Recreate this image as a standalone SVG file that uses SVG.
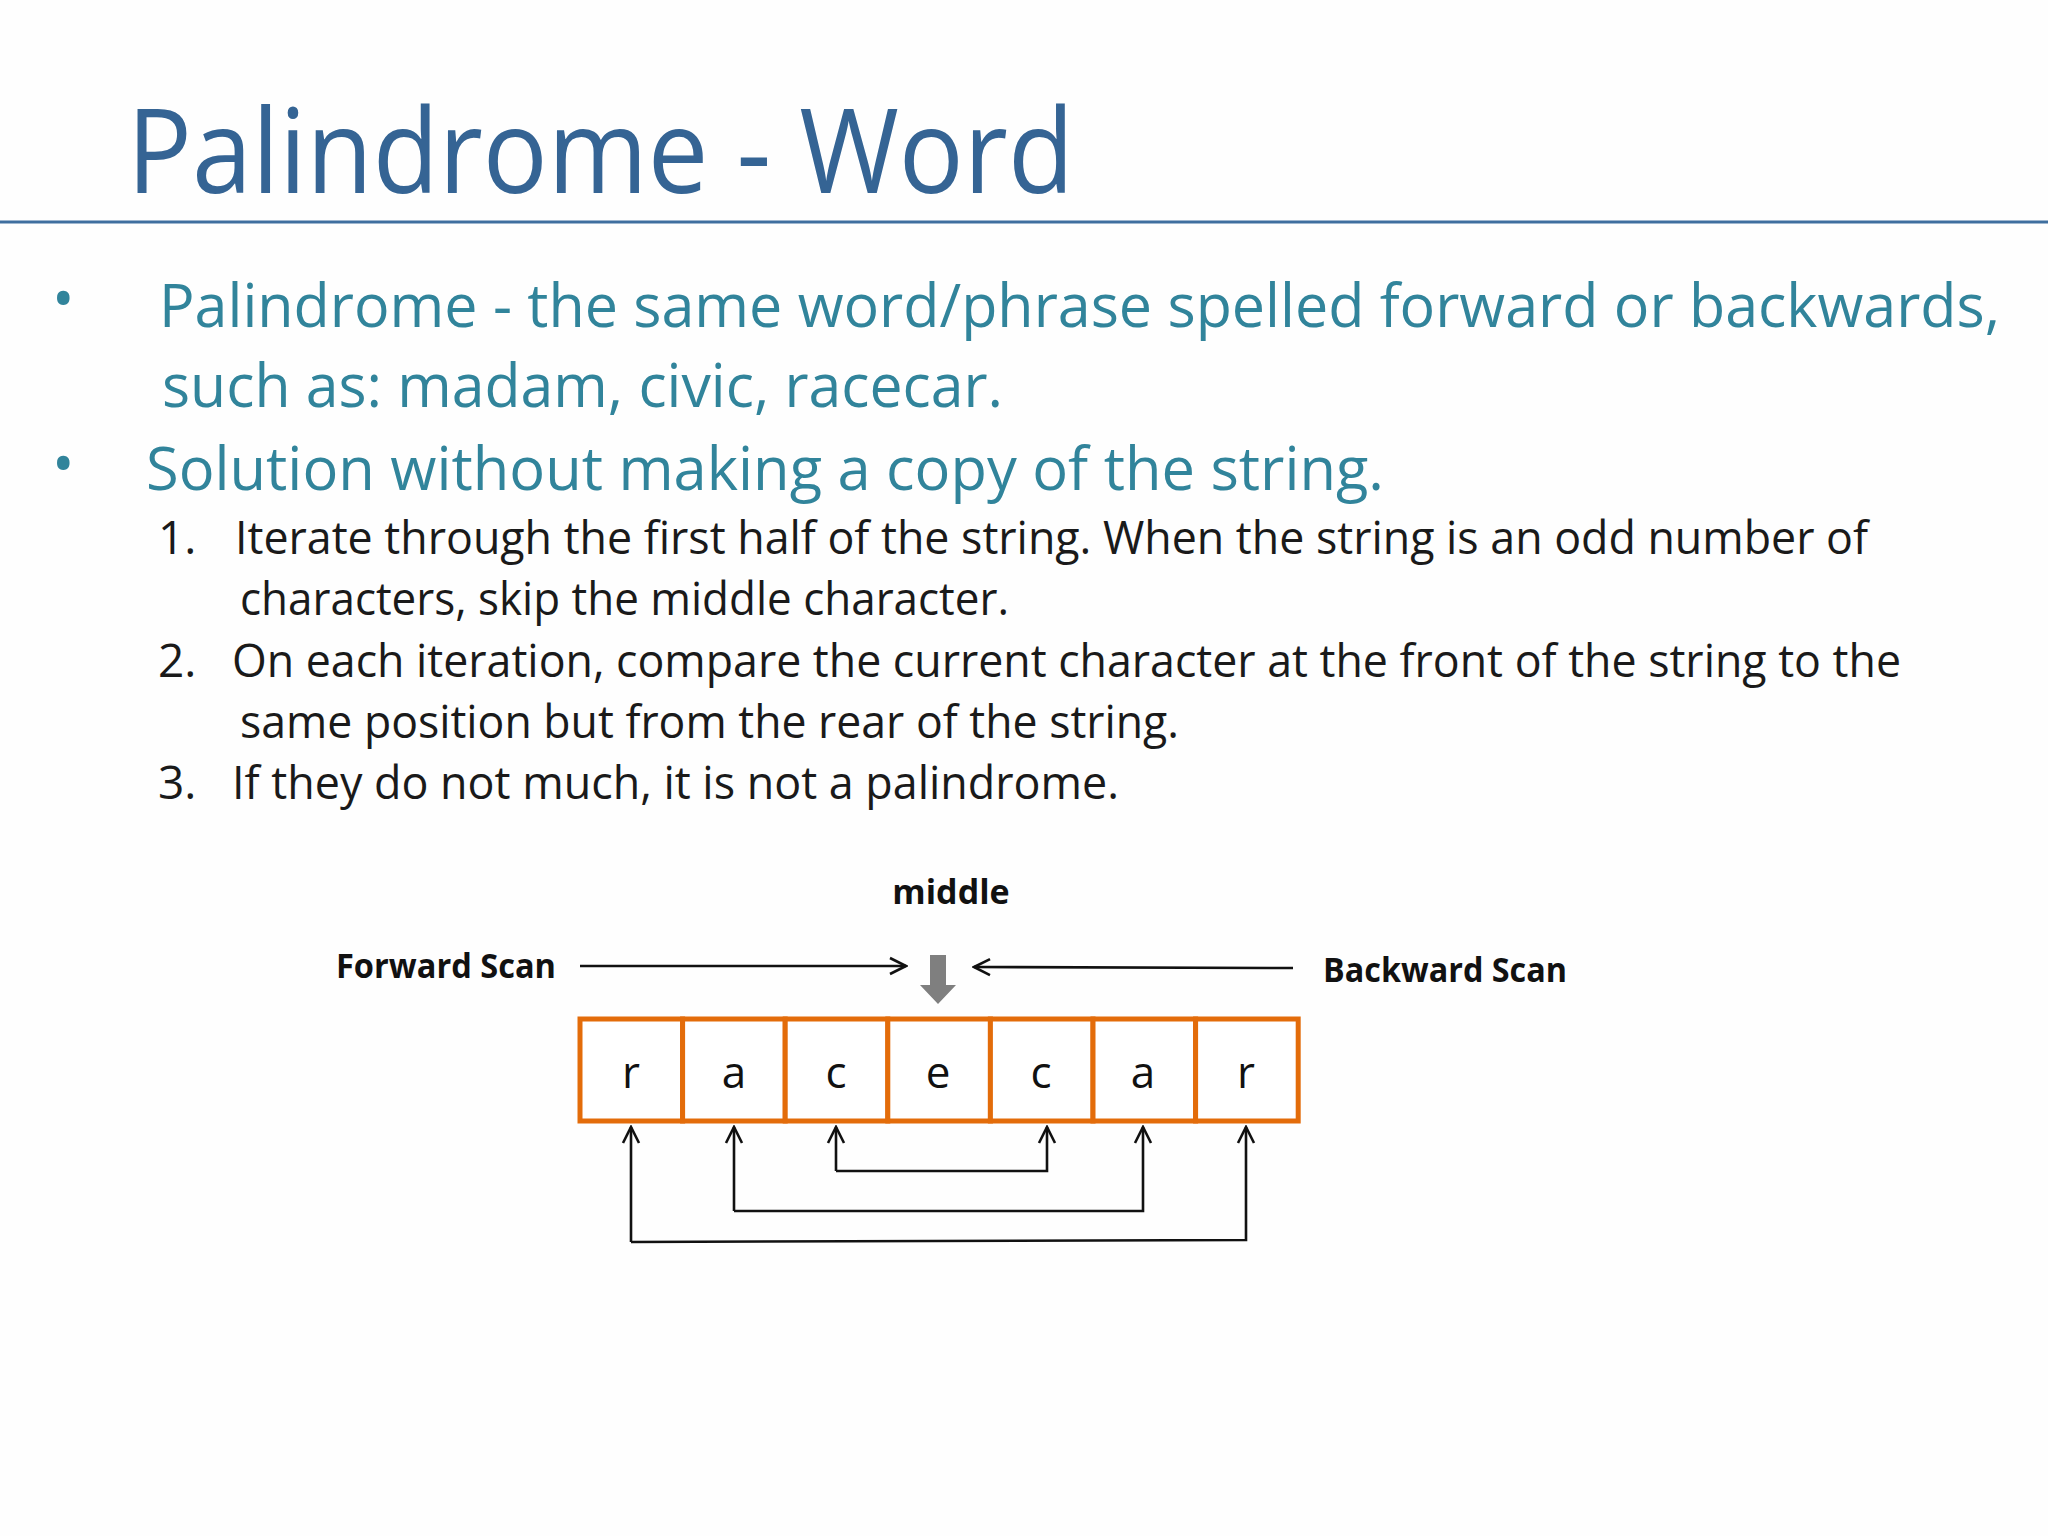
<svg xmlns="http://www.w3.org/2000/svg" width="2048" height="1536" viewBox="0 0 2048 1536">
<style>
.t{font-family:"Open Sans","Liberation Sans",sans-serif}
.b{fill:#31849b;font-size:60px}
.n{fill:#1a1a1a;font-size:46px}
.d{font-family:"Open Sans","Liberation Sans",sans-serif;font-weight:bold;font-size:34px;fill:#111}
.box{fill:#fff;stroke:#e36c0a;stroke-width:5}
.ch{font-family:"Open Sans","Liberation Sans",sans-serif;font-size:44px;fill:#111;text-anchor:middle}
.c{fill:none;stroke:#111;stroke-width:2.6}
</style>
<defs>
<marker id="ah" viewBox="0 0 20 20" refX="18" refY="10" markerWidth="20" markerHeight="20" markerUnits="userSpaceOnUse" orient="auto">
<path d="M2,2 L18,10 L2,18" fill="none" stroke="#111" stroke-width="2.6"/>
</marker>
</defs>
<rect width="2048" height="1536" fill="#fefefe"/>
<g id="title">
<text class="t" x="127" y="193" font-size="118" fill="#356494" textLength="947" lengthAdjust="spacingAndGlyphs">Palindrome - Word</text>
<line x1="0" y1="222" x2="2048" y2="222" stroke="#3f6f9f" stroke-width="3"/>
</g>
<g id="bullets">
<text class="t b" x="52" y="320">•</text>
<text class="t b" x="159" y="327" textLength="1841" lengthAdjust="spacingAndGlyphs">Palindrome - the same word/phrase spelled forward or backwards,</text>
<text class="t b" x="162" y="407" textLength="841" lengthAdjust="spacingAndGlyphs">such as: madam, civic, racecar.</text>
<text class="t b" x="52" y="485">•</text>
<text class="t b" x="146" y="490" textLength="1238" lengthAdjust="spacingAndGlyphs">Solution without making a copy of the string.</text>
<text class="t n" x="158" y="554">1.</text>
<text class="t n" x="235" y="554" textLength="1633" lengthAdjust="spacingAndGlyphs">Iterate through the first half of the string. When the string is an odd number of</text>
<text class="t n" x="240" y="615" textLength="769" lengthAdjust="spacingAndGlyphs">characters, skip the middle character.</text>
<text class="t n" x="158" y="677">2.</text>
<text class="t n" x="232" y="677" textLength="1669" lengthAdjust="spacingAndGlyphs">On each iteration, compare the current character at the front of the string to the</text>
<text class="t n" x="240" y="738" textLength="939" lengthAdjust="spacingAndGlyphs">same position but from the rear of the string.</text>
<text class="t n" x="158" y="799">3.</text>
<text class="t n" x="232" y="799" textLength="887" lengthAdjust="spacingAndGlyphs">If they do not much, it is not a palindrome.</text>
</g>
<g id="labels">
<text class="d" x="951" y="904" text-anchor="middle">middle</text>
<text class="d" x="336" y="978" textLength="220" lengthAdjust="spacingAndGlyphs">Forward Scan</text>
<text class="d" x="1323" y="982" textLength="244" lengthAdjust="spacingAndGlyphs">Backward Scan</text>
<path d="M930,955 h16 v30 h10 l-18,19 l-18,-19 h10 z" fill="#7f7f7f"/>
</g>
<g id="cells">
<rect class="box" x="580" y="1019" width="102.6" height="102"/>
<rect class="box" x="682.6" y="1019" width="102.6" height="102"/>
<rect class="box" x="785.2" y="1019" width="102.6" height="102"/>
<rect class="box" x="887.8" y="1019" width="102.6" height="102"/>
<rect class="box" x="990.4" y="1019" width="102.6" height="102"/>
<rect class="box" x="1093" y="1019" width="102.6" height="102"/>
<rect class="box" x="1195.6" y="1019" width="102.6" height="102"/>
<text class="ch" x="631" y="1088">r</text>
<text class="ch" x="734" y="1088">a</text>
<text class="ch" x="836" y="1088">c</text>
<text class="ch" x="938" y="1088">e</text>
<text class="ch" x="1041" y="1088">c</text>
<text class="ch" x="1143" y="1088">a</text>
<text class="ch" x="1246" y="1088">r</text>
</g>
<g id="connectors">
<line class="c" x1="580" y1="966" x2="906" y2="966" marker-end="url(#ah)"/>
<line class="c" x1="1293" y1="968" x2="974" y2="967" marker-end="url(#ah)"/>
<path class="c" d="M836,1171 V1127" marker-end="url(#ah)"/>
<path class="c" d="M836,1171 H1047 V1127" marker-end="url(#ah)"/>
<path class="c" d="M734,1211 V1127" marker-end="url(#ah)"/>
<path class="c" d="M734,1211 H1143 V1127" marker-end="url(#ah)"/>
<path class="c" d="M631,1242 V1127" marker-end="url(#ah)"/>
<path class="c" d="M631,1242 L1246,1240 V1127" marker-end="url(#ah)"/>
</g>
</svg>
